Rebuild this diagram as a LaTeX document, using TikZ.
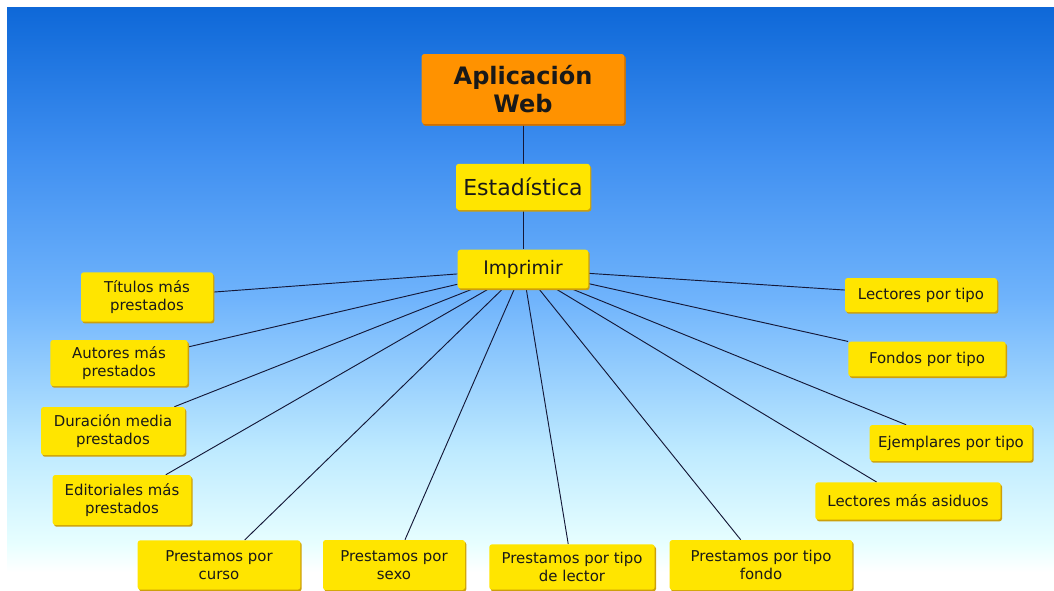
\documentclass[tikz,border=0pt]{standalone}
\usepackage{fontspec}
\setmainfont{DejaVu Sans}
\usetikzlibrary{positioning,shadows}
\pgfdeclarelayer{background}
\pgfdeclarelayer{edges}
\pgfsetlayers{background,edges,main}

\definecolor{skyA}{RGB}{14,104,216}
\definecolor{skyB}{RGB}{62,142,240}
\definecolor{skyC}{RGB}{112,180,252}
\definecolor{skyD}{RGB}{190,234,255}
\definecolor{skyE}{RGB}{232,255,255}
\definecolor{boxyellow}{RGB}{255,229,0}
\definecolor{boxedge}{RGB}{205,160,10}
\definecolor{apporange}{RGB}{255,146,0}
\definecolor{appedge}{RGB}{205,105,0}
\definecolor{linkblue}{RGB}{20,24,56}

\begin{document}
\begin{tikzpicture}[
      x=0.75pt, y=-0.75pt,
      box/.style={fill=boxyellow, rounded corners=2pt, align=center,
        text=black!90, inner sep=2pt,
        font=\fontsize{11.2}{13.5}\selectfont,
        drop shadow={shadow xshift=1pt, shadow yshift=-1.3pt, opacity=1, fill=boxedge}},
      root/.style={box, fill=apporange,
        drop shadow={shadow xshift=1pt, shadow yshift=-1.3pt, opacity=1, fill=appedge},
        font=\bfseries\fontsize{18}{21}\selectfont},
      link/.style={draw=linkblue, line width=0.7pt},
      node distance=29.5pt
    ]

    \useasboundingbox (0,0) rectangle (1054,590);

    % the sky
    \begin{pgfonlayer}{background}
      \fill[white] (0,0) rectangle (1054,590);
      \shade[top color=skyA, bottom color=skyB] (7,7) rectangle (1054,151);
      \shade[top color=skyB, bottom color=skyC] (7,150) rectangle (1054,301);
      \shade[top color=skyC, bottom color=skyD] (7,300) rectangle (1054,451);
      \shade[top color=skyD, bottom color=skyE] (7,450) rectangle (1054,546);
      \shade[top color=skyE, bottom color=white] (7,545) rectangle (1054,572);
    \end{pgfonlayer}

    % top of the tree
    \node[root, minimum width=152pt, minimum height=52.5pt] at (523,89) (app) {Aplicación\\Web};
    \node[box, below=of app, minimum width=100.5pt, minimum height=34.5pt,
      font=\fontsize{16.5}{19}\selectfont] (est) {Estadística};
    \node[box, below=of est, minimum width=98pt, minimum height=29pt,
      font=\fontsize{14}{17}\selectfont] (imp) {Imprimir};

    % left side
    \node[box, minimum width=99pt, minimum height=37pt] at (147,297) (titulos) {Títulos más\\prestados};
    \node[box, minimum width=103pt, minimum height=34.5pt] at (119,363) (autores) {Autores más\\prestados};
    \node[box, minimum width=108pt, minimum height=36pt] at (113,431) (duracion) {Duración media\\prestados};
    \node[box, minimum width=104pt, minimum height=37.5pt] at (122,500) (editoriales) {Editoriales más\\prestados};

    % bottom row
    \node[box, minimum width=122pt, minimum height=37pt] at (219,565) (curso) {Prestamos por\\curso};
    \node[box, minimum width=106.5pt, minimum height=37.5pt] at (394,565) (sexo) {Prestamos por\\sexo};
    \node[box, minimum width=124pt, minimum height=34pt] at (572,567) (lector) {Prestamos por tipo\\de lector};
    \node[box, minimum width=137pt, minimum height=37.5pt] at (761,565) (fondo) {Prestamos por tipo\\fondo};

    % right side
    \node[box, minimum width=114pt, minimum height=25.5pt] at (921,295) (lectores) {Lectores por tipo};
    \node[box, minimum width=118pt, minimum height=26pt] at (927,359) (fondos) {Fondos por tipo};
    \node[box, minimum width=122pt, minimum height=27pt] at (951,443) (ejemplares) {Ejemplares por tipo};
    \node[box, minimum width=139pt, minimum height=28pt] at (908,501) (asiduos) {Lectores más asiduos};

    % the links
    \begin{pgfonlayer}{edges}
      \draw[link] (app) -- (est);
      \draw[link] (est) -- (imp);
      \foreach \leaf in {titulos,autores,duracion,editoriales,curso,sexo,lector,fondo,asiduos,ejemplares,fondos,lectores}
        \draw[link] (imp) -- (\leaf);
    \end{pgfonlayer}
\end{tikzpicture}
\end{document}
